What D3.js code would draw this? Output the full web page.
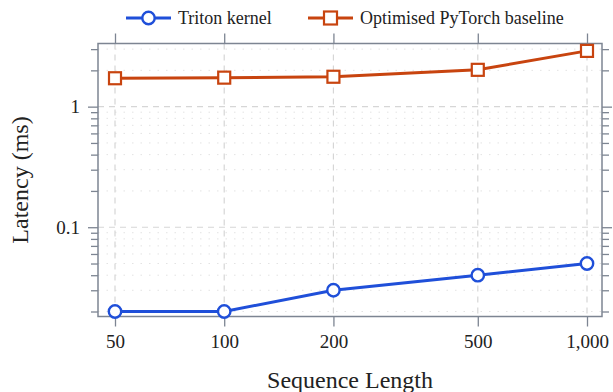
<!DOCTYPE html>
<html>
<head>
<meta charset="utf-8">
<script src="https://cdn.jsdelivr.net/npm/d3@7"></script>
<style>
  body { margin: 0; background: #fff; }
  text { font-family: "Liberation Serif", "Times New Roman", serif; fill: #222; }
</style>
</head>
<body>
<div id="chart"></div>
<script>
const seqLengths = [50, 100, 200, 500, 1000];
const tickLabels = ["50", "100", "200", "500", "1,000"];
const tritonMs = [0.02, 0.02, 0.03, 0.04, 0.05];
const torchMs = [1.72, 1.74, 1.77, 2.02, 2.9];
const seriesNames = ["Triton kernel", "Optimised PyTorch baseline"];
const yMajor = [0.1, 1];
const yMinor = [0.02, 0.03, 0.04, 0.05, 0.06, 0.07, 0.08, 0.09,
                0.2, 0.3, 0.4, 0.5, 0.6, 0.7, 0.8, 0.9, 2, 3];

const width = 613, height = 392;
const box = { left: 98, right: 602, top: 43.5, bottom: 316.5 };
const blue = "#1f4fd9", orange = "#c8440f", frame = "#7d8592";

const svg = d3.select("#chart").append("svg")
  .attr("width", width).attr("height", height);

// x: log scale, data sits a bit inside the frame
const x = d3.scaleLog().domain([50, 1000]).range([115, 587]);
const y = d3.scaleLog().domain([0.01818, 3.34]).range([box.bottom, box.top]);

// grid
const grid = svg.append("g");
grid.selectAll(".minor").data(yMinor).enter().append("line")
  .attr("x1", box.left).attr("x2", box.right)
  .attr("y1", d => y(d)).attr("y2", d => y(d))
  .attr("stroke", "#e3e3e3").attr("stroke-width", 1).attr("stroke-dasharray", "1.5,7");
grid.selectAll(".major").data(yMajor).enter().append("line")
  .attr("x1", box.left).attr("x2", box.right)
  .attr("y1", d => y(d)).attr("y2", d => y(d))
  .attr("stroke", "#d6d6d6").attr("stroke-width", 1.2).attr("stroke-dasharray", "6,5");
grid.selectAll(".vx").data(seqLengths).enter().append("line")
  .attr("y1", box.top).attr("y2", box.bottom)
  .attr("x1", d => x(d)).attr("x2", d => x(d))
  .attr("stroke", "#d6d6d6").attr("stroke-width", 1.2).attr("stroke-dasharray", "6,5");

// axes (ticks out on all four sides)
const fmtX = d => tickLabels[seqLengths.indexOf(d)];
const xb = svg.append("g").attr("transform", `translate(0,${box.bottom})`)
  .call(d3.axisBottom(x).tickValues(seqLengths).tickFormat(fmtX).tickSize(10).tickPadding(8));
const xt = svg.append("g").attr("transform", `translate(0,${box.top})`)
  .call(d3.axisTop(x).tickValues(seqLengths).tickFormat("").tickSize(10));
const yl = svg.append("g").attr("transform", `translate(${box.left},0)`)
  .call(d3.axisLeft(y).tickValues(yMajor).tickFormat(d => d === 1 ? "1" : "0.1").tickSize(10).tickPadding(8));
const ylm = svg.append("g").attr("transform", `translate(${box.left},0)`)
  .call(d3.axisLeft(y).tickValues(yMinor).tickFormat("").tickSize(7));
const yr = svg.append("g").attr("transform", `translate(${box.right},0)`)
  .call(d3.axisRight(y).tickValues(yMajor).tickFormat("").tickSize(10));
const yrm = svg.append("g").attr("transform", `translate(${box.right},0)`)
  .call(d3.axisRight(y).tickValues(yMinor).tickFormat("").tickSize(7));

[xb, xt, yl, ylm, yr, yrm].forEach(g => {
  g.select(".domain").remove();
  g.selectAll(".tick line").attr("stroke", frame).attr("stroke-width", 1.3);
  g.selectAll(".tick text").style("font-family", '"Liberation Serif", serif')
    .style("font-size", "19px").attr("fill", "#222");
});

svg.append("rect")
  .attr("x", box.left).attr("y", box.top)
  .attr("width", box.right - box.left).attr("height", box.bottom - box.top)
  .attr("fill", "none").attr("stroke", frame).attr("stroke-width", 1.5);

// series
const line = d3.line().x(d => x(d[0])).y(d => y(d[1]));
const triton = seqLengths.map((s, i) => [s, tritonMs[i]]);
const torch = seqLengths.map((s, i) => [s, torchMs[i]]);

svg.append("path").datum(torch).attr("d", line)
  .attr("fill", "none").attr("stroke", orange).attr("stroke-width", 3);
svg.selectAll(".sq").data(torch).enter().append("rect")
  .attr("x", d => x(d[0]) - 6).attr("y", d => y(d[1]) - 6)
  .attr("width", 12).attr("height", 12)
  .attr("fill", "#fff").attr("stroke", orange).attr("stroke-width", 2.2);

svg.append("path").datum(triton).attr("d", line)
  .attr("fill", "none").attr("stroke", blue).attr("stroke-width", 3);
svg.selectAll(".ci").data(triton).enter().append("circle")
  .attr("cx", d => x(d[0])).attr("cy", d => y(d[1])).attr("r", 6.2)
  .attr("fill", "#fff").attr("stroke", blue).attr("stroke-width", 2.4);

// axis titles
svg.append("text").attr("x", (box.left + box.right) / 2).attr("y", 388)
  .attr("text-anchor", "middle").style("font-size", "24px").text("Sequence Length");
svg.append("text").attr("transform", `translate(28,${(box.top + box.bottom) / 2}) rotate(-90)`)
  .attr("text-anchor", "middle").style("font-size", "24px").text("Latency (ms)");

// legend
const lg = svg.append("g");
const ly = 18;
lg.append("line").attr("x1", 126).attr("x2", 171).attr("y1", ly).attr("y2", ly)
  .attr("stroke", blue).attr("stroke-width", 3);
lg.append("circle").attr("cx", 148.5).attr("cy", ly).attr("r", 6.2)
  .attr("fill", "#fff").attr("stroke", blue).attr("stroke-width", 2.4);
lg.append("text").attr("x", 178).attr("y", ly + 6).style("font-size", "18px").text(seriesNames[0]);
lg.append("line").attr("x1", 308).attr("x2", 353).attr("y1", ly).attr("y2", ly)
  .attr("stroke", orange).attr("stroke-width", 3);
lg.append("rect").attr("x", 330.5 - 6.5).attr("y", ly - 6.5).attr("width", 13).attr("height", 13)
  .attr("fill", "#fff").attr("stroke", orange).attr("stroke-width", 2.2);
lg.append("text").attr("x", 360).attr("y", ly + 6).style("font-size", "18px").text(seriesNames[1]);
</script>
</body>
</html>
